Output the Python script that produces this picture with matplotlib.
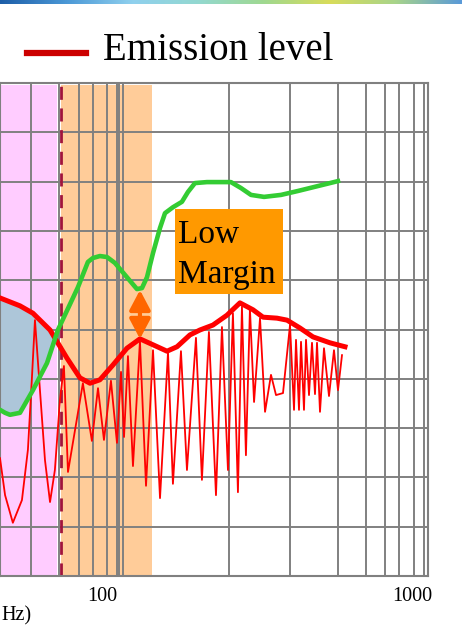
import numpy as np
import matplotlib
matplotlib.use("Agg")
import matplotlib.pyplot as plt
from matplotlib.colors import LinearSegmentedColormap
from matplotlib.lines import Line2D
from matplotlib.patches import Rectangle
from matplotlib.ticker import FixedLocator, NullFormatter

plt.rcParams['font.family'] = ['Liberation Serif', 'DejaVu Serif']

# measured emission spectrum (MHz, dBuV)
emission_f = [46.9, 48.7, 51.6, 55.2, 57.7, 59.4, 60.8, 63.1, 65.5, 68.0,
              70.5, 73.2, 75.4, 77.7, 86.8, 92.8, 97.1, 101.5, 106.9, 111.8,
              115.2, 117.8, 121.3, 125.9, 132.6, 138.7, 146.1, 153.9, 163.3, 169.4,
              179.8, 188.0, 201.0, 210.1, 221.3, 233.2, 243.8, 254.9, 264.5, 274.5,
              282.8, 291.3, 300.1, 309.4, 323.4, 335.7, 350.9, 364.2, 383.6, 404.1,
              416.3, 422.5, 432.0, 438.5, 448.3, 455.1, 465.3, 475.8, 486.5, 493.8,
              504.9, 520.1, 539.8, 560.2, 577.1, 594.5]
emission_db = [23.9, 16.4, 10.8, 15.4, 25.6, 39.8, 51.9, 37.7, 23.5, 15.0,
               21.5, 35.7, 42.6, 21.1, 39.1, 27.4, 38.1, 27.6, 39.6, 27.0,
               41.4, 28.2, 44.6, 22.3, 47.7, 18.3, 45.8, 15.8, 45.4, 18.7,
               45.6, 21.5, 48.3, 19.5, 49.5, 16.4, 50.5, 21.5, 53.3, 17.0,
               54.6, 24.5, 54.2, 35.3, 52.3, 33.3, 40.8, 36.7, 37.1, 50.9,
               33.7, 47.9, 33.7, 47.5, 33.7, 47.9, 36.7, 47.3, 36.9, 47.3,
               33.3, 46.2, 36.5, 45.8, 37.7, 44.8]

# peak envelope of the emission
env_f = [46.9, 54.4, 59.9, 68.0, 77.1, 84.9, 91.5, 98.5, 108.5, 120.4,
         132.6, 146.1, 162.1, 174.6, 192.2, 207.0, 228.0, 253.0, 278.6, 307.0,
         330.7, 366.9, 395.3, 435.2, 479.3, 543.8, 607.9]
env_db = [56.4, 54.8, 53.3, 49.9, 44.2, 40.2, 39.1, 39.8, 42.8, 46.2,
          48.1, 46.9, 45.6, 46.5, 48.9, 49.9, 50.9, 52.9, 55.4, 54.0,
          52.5, 52.3, 51.9, 50.3, 48.5, 47.3, 46.5]

# limit line
limit_f = [46.9, 48.7, 50.5, 54.4, 59.9, 66.5, 72.1, 83.7, 90.1, 93.5, 98.5,
           103.8, 110.1, 120.4, 129.7, 134.6, 139.7, 146.1, 153.9, 159.7, 169.4,
           181.1, 189.4, 199.5, 218.1, 260.6, 280.7, 302.5, 333.2, 377.9, 428.8,
           497.5, 577.1]
limit_db = [33.7, 33.1, 32.7, 33.1, 37.7, 43.2, 49.9, 58.6, 63.7, 64.5, 64.9,
            64.7, 63.5, 60.6, 58.2, 58.4, 60.6, 65.5, 70.6, 73.6, 74.8,
            75.9, 77.9, 79.7, 79.9, 79.9, 78.7, 77.3, 76.9, 77.3, 78.1,
            79.1, 80.1]

# where the envelope drops below the limit
cross_f, cross_db = 70.3, 48.6

# frequency bands and markers
band_pink = (40.0, 71.6)
band_orange = (73.9, 145.0)
boundary_f = 73.9
margin_f, margin_low, margin_high = 132.6, 48.1, 58.0

grid_freqs = [59.0, 72.7, 84.3, 93.5, 103.8, 111.8, 113.5, 116.9, 256.9,
              404.1, 577.1, 710.7, 818.3, 907.8, 1015, 1093]
levels = [10, 20, 30, 40, 50, 60, 70, 80, 90]
xticks = [100, 1000]
xticklabels = ['100', '1000']

banner_colors = ['#1d5ea8', '#4b98d6', '#8fd0ee', '#93d8d0', '#9fd890',
                 '#d8dc5a', '#a8d48a', '#5a9ad8']

fig = plt.figure(figsize=(4.62, 6.30), dpi=100)

# header strip
gax = fig.add_axes([0, 1 - 4 / 630, 1, 4 / 630])
gax.imshow(np.linspace(0, 1, 256)[None, :], aspect='auto',
           cmap=LinearSegmentedColormap.from_list('banner', banner_colors))
gax.axis('off')

ax = fig.add_axes([0, 54 / 630, 428 / 462, 493 / 630])
ax.set_xscale('log')
ax.set_xlim(46.9, 1126)
ax.set_ylim(0, 100)

ax.axvspan(*band_pink, ymax=0.996, color='#ffccff', lw=0, zorder=0)
ax.axvspan(*band_orange, ymax=0.996, color='#ffcc99', lw=0, zorder=0)

ax.xaxis.set_minor_locator(FixedLocator(grid_freqs))
ax.xaxis.set_minor_formatter(NullFormatter())
ax.set_xticks(xticks)
ax.set_xticklabels(xticklabels)
ax.set_yticks(levels)
ax.set_yticklabels([])
ax.tick_params(which='both', length=0)
ax.tick_params(axis='x', labelsize=14.5, pad=8)
ax.grid(which='minor', axis='x', color='#808080', lw=1.4)
ax.grid(which='major', axis='y', color='#808080', lw=1.4)
for s in ax.spines.values():
    s.set_color('#808080')
    s.set_linewidth(1.5)

ax.axvline(boundary_f, color='#a0143c', lw=2, ls=(0, (4.7, 3.1)), zorder=2)

# exceedance area between envelope and limit
n_lim = limit_f.index(66.5) + 1
poly_f = env_f[:4] + [cross_f] + limit_f[:n_lim][::-1]
poly_db = env_db[:4] + [cross_db] + limit_db[:n_lim][::-1]
ax.fill(poly_f, poly_db, color='#adc6d9', lw=0, zorder=2)

ax.plot(emission_f, emission_db, color='#ff0000', lw=1.3, zorder=3)
ax.plot(env_f, env_db, color='#ff0000', lw=3.6, zorder=4, solid_joinstyle='round')
ax.plot(limit_f, limit_db, color='#33cc33', lw=3.3, zorder=5, solid_joinstyle='round')

ax.annotate('', xy=(margin_f, margin_low), xytext=(margin_f, margin_high),
            arrowprops=dict(arrowstyle='<|-|>,head_length=0.85,head_width=0.45',
                            color='#ff6600', lw=3, mutation_scale=14,
                            shrinkA=0, shrinkB=0), zorder=6)

ax.add_patch(Rectangle((172.0, 57.2), 383.6 - 172.0, 74.4 - 57.2,
                       facecolor='#ff9900', edgecolor='none', zorder=6))
ax.text(175.9, 67.5, 'Low', fontsize=24, va='baseline', zorder=7)
ax.text(175.9, 59.4, 'Margin', fontsize=24, va='baseline', zorder=7)

# legend
fig.add_artist(Line2D([27 / 462, 86 / 462], [1 - 53 / 630] * 2,
                      transform=fig.transFigure, color='#cc0000', lw=4.5))
fig.text(103 / 462, 1 - 60 / 630, 'Emission level', fontsize=28, va='baseline')

# tail of the axis title
fig.text(1 / 462, 1 - 620 / 630, 'Hz)', fontsize=14.5, ha='left', va='baseline')

fig.savefig('out.png', dpi=100)
